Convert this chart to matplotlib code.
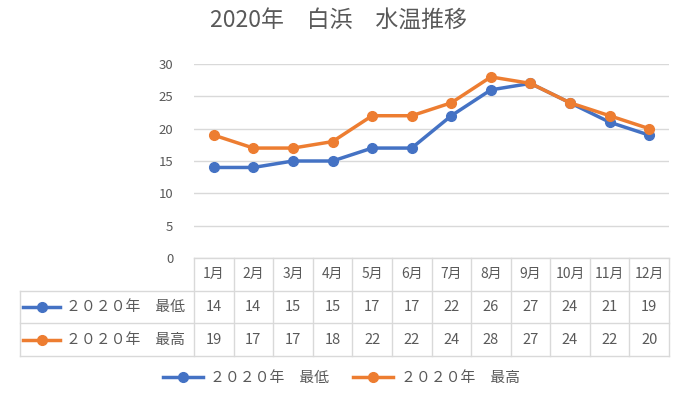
import matplotlib
matplotlib.use('Agg')
import matplotlib.pyplot as plt
from matplotlib.lines import Line2D

plt.rcParams['font.family'] = ['Noto Sans CJK JP', 'DejaVu Sans']

# data
months = ['1月', '2月', '3月', '4月', '5月', '6月', '7月', '8月', '9月', '10月', '11月', '12月']
low = [14, 14, 15, 15, 17, 17, 22, 26, 27, 24, 21, 19]
high = [19, 17, 17, 18, 22, 22, 24, 28, 27, 24, 22, 20]
series_names = ['２０２０年　最低', '２０２０年　最高']
colors = ['#4472C4', '#ED7D31']
yticks = [0, 5, 10, 15, 20, 25, 30]

grey = '#595959'
gridc = '#D9D9D9'
W, H = 680, 394

fig = plt.figure(figsize=(6.8, 3.94), dpi=100)

# main plot area (pixel positions from the reference)
x0, x1 = 194, 669
ax = fig.add_axes([x0 / W, (H - 258) / H, (x1 - x0) / W, (258 - 64) / H])
xs = range(len(months))
for vals, c in zip([low, high], colors):
    ax.plot(xs, vals, color=c, lw=2.5, marker='o', ms=7, zorder=3)
ax.set_xlim(-0.5, len(months) - 0.5)
ax.set_ylim(0, 30)
ax.set_yticks(yticks)
ax.set_xticks([])
ax.grid(axis='y', color=gridc, lw=1)
ax.set_axisbelow(True)
for s in ax.spines.values():
    s.set_visible(False)
ax.tick_params(axis='y', length=0, labelsize=9.5, labelcolor=grey, pad=15)

# data table below the plot
tab = fig.add_axes([x0 / W, (H - 356) / H, (x1 - x0) / W, (356 - 258) / H])
tab.set_xlim(-0.5, len(months) - 0.5)
tab.set_ylim(0, 3)
tab.axis('off')
left = -0.5 - (x0 - 20) / (x1 - x0) * len(months)

# grid lines of the table
tab.plot([-0.5, len(months) - 0.5], [3, 3], color=gridc, lw=1, clip_on=False)
for yy in [2, 1, 0]:
    tab.plot([left, len(months) - 0.5], [yy, yy], color=gridc, lw=1, clip_on=False)
for i in range(len(months) + 1):
    tab.plot([i - 0.5, i - 0.5], [0, 3], color=gridc, lw=1, clip_on=False)
tab.plot([left, left], [0, 2], color=gridc, lw=1, clip_on=False)

for i, m in enumerate(months):
    tab.text(i, 2.5, m, ha='center', va='center', fontsize=10, color=grey)
    tab.text(i, 1.5, str(low[i]), ha='center', va='center', fontsize=10.5, color=grey)
    tab.text(i, 0.5, str(high[i]), ha='center', va='center', fontsize=10.5, color=grey)

# series keys in the table
px = len(months) / (x1 - x0)
key_w = 37 * px
for row, (name, c) in zip([1.5, 0.5], zip(series_names, colors)):
    kx = left + 3 * px
    tab.add_line(Line2D([kx, kx + key_w], [row, row], color=c, lw=2.5, clip_on=False))
    tab.plot([kx + key_w / 2], [row], 'o', color=c, ms=7, clip_on=False)
    tab.text(kx + key_w + 6 * px, row, name, ha='left', va='center',
             fontsize=10.7, color=grey)

# legend at the bottom
handles = [Line2D([], [], color=c, lw=2.5, marker='o', ms=7) for c in colors]
fig.legend(handles, series_names, loc='center', bbox_to_anchor=(0.502, (H - 378) / H),
           ncol=2, frameon=False, fontsize=10.7, labelcolor=grey, handlelength=2.7,
           columnspacing=1.6, handletextpad=0.5)

fig.text(0.497, (H - 20) / H, '2020年　白浜　水温推移', ha='center', va='center',
         fontsize=16.5, color=grey)

fig.savefig('out.png', dpi=100)
